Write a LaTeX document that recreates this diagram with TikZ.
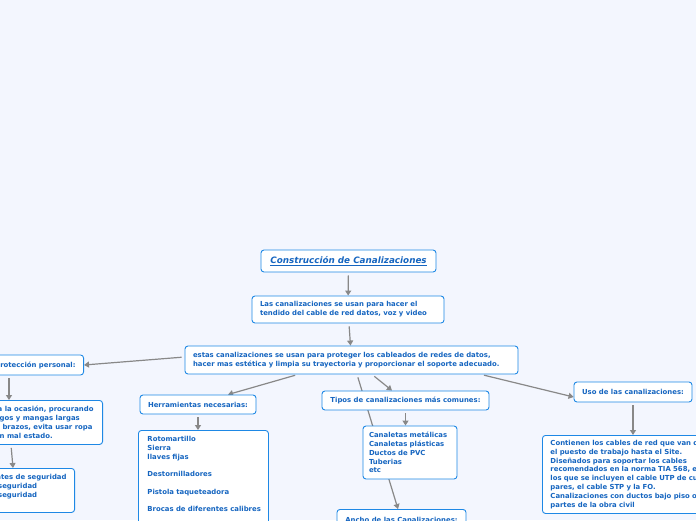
\documentclass[tikz,border=0pt]{standalone}
\usepackage{fontspec}
\setmainfont{DejaVu Sans}
\usetikzlibrary{arrows.meta}

\definecolor{pagebg}{RGB}{243,246,254}
\definecolor{boxline}{RGB}{30,136,229}
\definecolor{txtblue}{RGB}{21,101,192}
\definecolor{arrgray}{RGB}{136,136,136}

\pgfdeclarelayer{back}
\pgfdeclarelayer{links}
\pgfsetlayers{back,links,main}

\begin{document}
\begin{tikzpicture}[
    x=1pt, y=-1pt,
    box/.style={draw=boxline, fill=white, rounded corners=3pt, line width=0.9pt, align=left,
        font=\fontsize{6.9}{8.8}\selectfont\bfseries, text=txtblue, inner xsep=8pt, inner ysep=4pt},
    arr/.style={-{Triangle[length=5pt,width=6pt]}, draw=arrgray, line width=1.2pt, shorten <=3pt}
]
\clip (0,0) rectangle (696,520);
\begin{pgfonlayer}{back}
\fill[pagebg] (0,0) rectangle (696,520);
\end{pgfonlayer}

% centro
\node[box, align=center, minimum width=175pt, minimum height=22pt,
    font=\fontsize{8.8}{10}\selectfont\bfseries\itshape] (title) at (348.5,261) {\underline{Construcción de Canalizaciones}};
\node[box, text width=176pt, minimum height=27pt] (intro) at (348,309.5)
    {Las canalizaciones se usan para hacer el\\tendido del cable de red datos, voz y video};
\node[box, text width=317pt, minimum height=28pt] (uses) at (351.5,360)
    {estas canalizaciones se usan para proteger los cableados de redes de datos,\\hacer mas estética y limpia su trayectoria y proporcionar el soporte adecuado.};

% izquierda
\node[box, anchor=east, minimum height=20pt] (prot) at (84,365) {Protección personal:};
\node[box, anchor=north east, minimum height=44pt, inner xsep=9pt] (ropa) at (103,400)
    {\hspace*{-2pt}a la ocasión, procurando\\gos y mangas largas\\\hspace*{-3pt}r brazos, evita usar ropa\\n mal estado.};
\node[box, anchor=north east, minimum height=44pt] (equipo) at (75,468)
    {\hspace*{-2pt}ntes de seguridad\\seguridad\\seguridad\\\hspace*{-3pt}c};

% herramientas
\node[box, align=center, minimum width=116pt, minimum height=19pt] (herr) at (198,404.5) {Herramientas necesarias:};
\node[box, anchor=north west, text width=112pt, inner xsep=9pt, inner ysep=6pt] (tools) at (138,430)
    {Rotomartillo\\Sierra\\llaves fijas\\[8.6pt]Destornilladores\\[8.6pt]Pistola taqueteadora\\[8.6pt]\mbox{Brocas de diferentes calibres}\\[8.6pt]\mbox{}\\\mbox{}};

% tipos
\node[box, align=center, minimum width=167pt, minimum height=19pt] (tipos) at (405.5,400.5) {Tipos de canalizaciones más comunes:};
\node[box, text width=82pt, inner xsep=6pt, minimum height=53pt] (canal) at (410,452.5)
    {Canaletas metálicas\\Canaletas plásticas\\Ductos de PVC\\Tuberias\\etc};
\node[box, anchor=north, align=center, minimum width=129pt, minimum height=20pt] (ancho) at (401.5,509)
    {Ancho de las Canalizaciones:};

% uso
\node[box, align=center, minimum width=118pt, minimum height=20pt] (uso) at (633,392) {Uso de las canalizaciones:};
\node[box, anchor=north west, text width=200pt, minimum height=78pt] (cont) at (542,435)
    {Contienen los cables de red que van desde\\el puesto de trabajo hasta el Site.\\Diseñados para soportar los cables\\recomendados en la norma TIA 568, entre\\los que se incluyen el cable UTP de cuatro\\pares, el cable STP y la FO.\\Canalizaciones con ductos bajo piso o en\\partes de la obra civil};

\begin{pgfonlayer}{links}
\draw[arr] (title) -- (intro);
\draw[arr] (intro) -- (uses);
\draw[arr] ([yshift=3pt]uses.west) -- (prot.east);
\draw[arr] ([xshift=-75pt]prot.south east) -- ([xshift=-94pt]ropa.north east);
\draw[arr] ([xshift=-92pt]ropa.south east) -- ([xshift=-62pt]equipo.north east);
\draw[arr] ([xshift=-53.5pt]uses.south) -- ([xshift=30pt]herr.north);
\draw[arr] (herr.south) -- (herr.south |- tools.north);
\draw[arr] ([xshift=20.5pt]uses.south) -- ([xshift=-13.5pt]tipos.north);
\draw[arr] (tipos.south) -- (tipos.south |- canal.north);
\draw[arr] ([xshift=5.5pt]uses.south) -- ([xshift=-3.5pt]ancho.north);
\draw[arr] ([xshift=129.5pt]uses.south) -- ([yshift=-5pt]uso.west);
\draw[arr] (uso.south) -- (uso.south |- cont.north);
\end{pgfonlayer}
\end{tikzpicture}
\end{document}
